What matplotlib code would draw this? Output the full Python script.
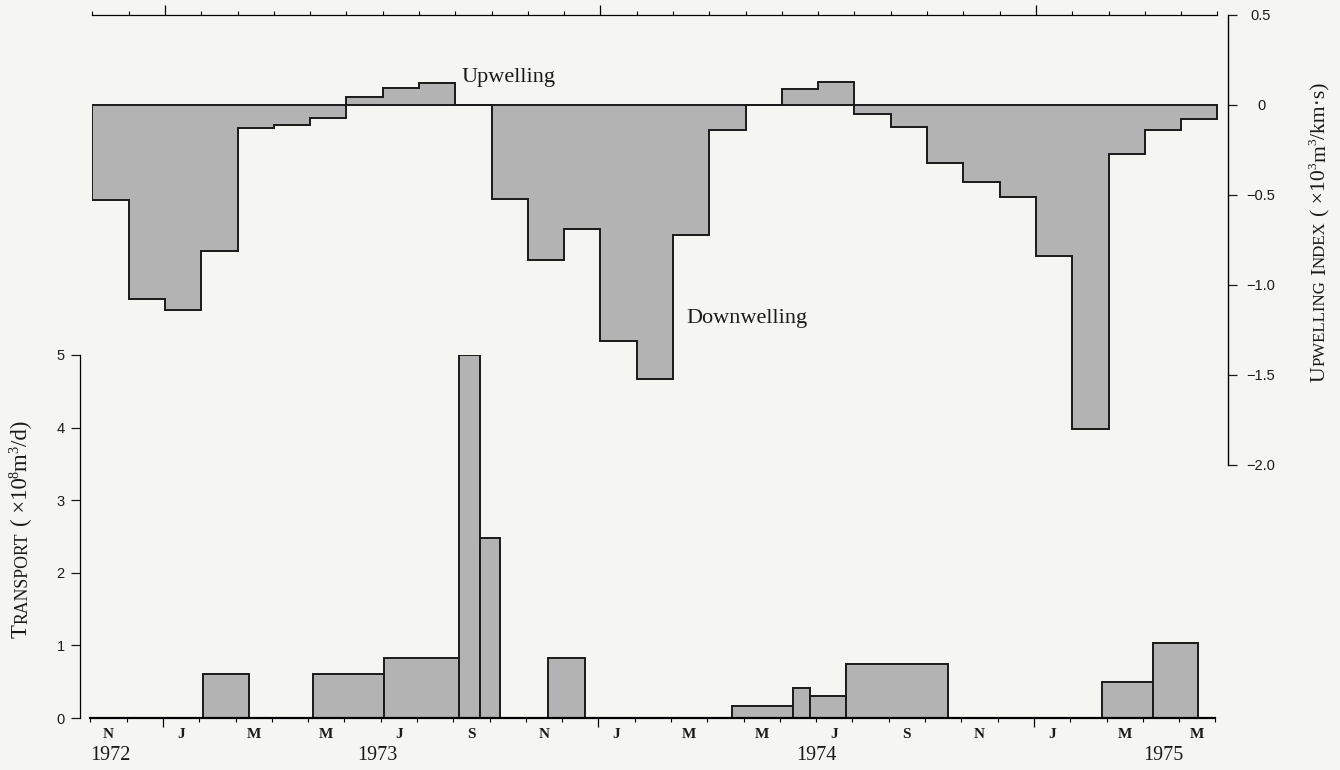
import matplotlib
matplotlib.use("Agg")
import matplotlib.pyplot as plt
import numpy as np
from matplotlib.transforms import IdentityTransform, blended_transform_factory

# ---------------- data ----------------
# x unit: months since 1 Nov 1972
month_edges = list(range(0, 32))
upwelling_index = [-0.53, -1.08, -1.14, -0.81, -0.13, -0.11, -0.07, 0.045, 0.095, 0.125, 0.0,
                   -0.52, -0.86, -0.69, -1.31, -1.52, -0.72, -0.14, 0.0, 0.09, 0.13,
                   -0.05, -0.12, -0.32, -0.43, -0.51, -0.84, -1.80, -0.27, -0.14, -0.08]

transport_start = [3.10, 6.14, 8.09, 10.17, 10.73, 12.61, 17.67, 19.35, 19.82, 20.82, 27.87, 29.28]
transport_end = [4.37, 8.09, 10.17, 10.73, 11.28, 13.63, 19.35, 19.82, 20.82, 23.63, 29.28, 30.52]
transport_value = [0.61, 0.60, 0.83, 5.0, 2.48, 0.83, 0.17, 0.41, 0.30, 0.74, 0.50, 1.03]

month_letters = ['N', 'J', 'M', 'M', 'J', 'S', 'N', 'J', 'M', 'M', 'J', 'S', 'N', 'J', 'M', 'M']
month_letter_pos = [0.5 + 2 * i for i in range(16)]
year_labels = ['1972', '1973', '1974', '1975']
year_label_pos = [0.54, 7.92, 20.0, 29.56]
jan_ticks = [2, 14, 26]

upw_ticks = [0.5, 0, -0.5, -1.0, -1.5, -2.0]
upw_ticklabels = ['0.5', '0', '\u22120.5', '\u22121.0', '\u22121.5', '\u22122.0']
tr_ticks = [0, 1, 2, 3, 4, 5]
tr_ticklabels = ['0', '1', '2', '3', '4', '5']

# ---------------- style ----------------
SERIF = 'Liberation Serif'
SANS = 'Liberation Sans'
INK = '#1a1a1a'
FILL = '#b3b3b3'
BG = '#f5f5f2'
plt.rcParams['font.family'] = SANS

W, H = 1340, 770
fig = plt.figure(figsize=(W / 100, H / 100), dpi=100, facecolor=BG)

MW = 36.29  # px per month


def fr(x0, y0_top, x1, y1_top):
    return [x0 / W, 1 - y1_top / H, (x1 - x0) / W, (y1_top - y0_top) / H]


# ---------------- top panel: upwelling index ----------------
ax1 = fig.add_axes(fr(92.4, 15, 1228, 465))
ax1.set_facecolor('none')
ax1.set_xlim(0, (1228 - 92.4) / MW)
ax1.set_ylim(-2.0, 0.5)
ax1.stairs(upwelling_index, month_edges, baseline=0, fill=True,
           facecolor=FILL, edgecolor=INK, linewidth=1.4, zorder=2)
ax1.plot([month_edges[0], month_edges[-1]], [0, 0], color=INK, lw=1.4, zorder=3)

for s in ['left', 'bottom']:
    ax1.spines[s].set_visible(False)
ax1.spines['top'].set_bounds(month_edges[0], month_edges[-1])
ax1.spines['top'].set_linewidth(0.9)
ax1.spines['right'].set_linewidth(1.0)
ax1.xaxis.set_ticks_position('top')
ax1.set_xticks(jan_ticks)
ax1.set_xticks(month_edges, minor=True)
ax1.tick_params(axis='x', which='major', direction='out', length=7, width=0.9, labeltop=False, labelbottom=False)
ax1.tick_params(axis='x', which='minor', direction='out', length=3, width=0.8)
ax1.yaxis.set_ticks_position('right')
ax1.set_yticks(upw_ticks)
ax1.set_yticklabels(upw_ticklabels)
ax1.tick_params(axis='y', direction='out', length=6.5, width=0.9, pad=17.3, labelsize=10.5,
                labelcolor=INK, color=INK)
for t in ax1.get_yticklabels():
    t.set_horizontalalignment('center')
    t.set_family(SANS)

ax1.text((462 - 92.4) / MW, (105 - 82) / 180, 'Upwelling', family=SERIF, fontsize=16,
         color=INK, ha='left', va='baseline')
ax1.text((686 - 92.4) / MW, (105 - 323) / 180, 'Downwelling', family=SERIF, fontsize=16,
         color=INK, ha='left', va='baseline')

# ---------------- bottom panel: transport ----------------
ax2 = fig.add_axes(fr(90.4, 355, 90.4 + 31 * MW, 718))
ax2.set_facecolor('none')
ax2.set_xlim(0, 31)
ax2.set_ylim(0, 5)
starts = np.array(transport_start)
ends = np.array(transport_end)
ax2.bar(starts, transport_value, width=ends - starts, align='edge', color=FILL,
        edgecolor=INK, linewidth=1.4, zorder=2)

for s in ['top', 'right']:
    ax2.spines[s].set_visible(False)
ax2.spines['left'].set_position(('outward', 7.5))
ax2.spines['left'].set_linewidth(0.9)
ax2.spines['bottom'].set_linewidth(1.6)
ax2.spines['bottom'].set_zorder(3)
ax2.set_yticks(tr_ticks)
ax2.set_yticklabels(tr_ticklabels)
ax2.tick_params(axis='y', direction='out', length=6.5, width=0.9, pad=4.5, labelsize=10.5,
                labelcolor=INK, color=INK)
ax2.set_xticks(jan_ticks)
ax2.set_xticks(month_edges, minor=True)
ax2.tick_params(axis='x', which='major', direction='out', length=6.5, width=0.9, labelbottom=False)
ax2.tick_params(axis='x', which='minor', direction='out', length=3, width=0.8)

trans = blended_transform_factory(ax2.transData, ax2.transAxes)
for m, lab in zip(month_letter_pos, month_letters):
    ax2.text(m, (718 - 734) / 363, lab, transform=trans, family=SERIF, weight='bold',
             fontsize=11, color=INK, ha='center', va='center')
for m, lab in zip(year_label_pos, year_labels):
    ax2.text(m, (718 - 756) / 363, lab, transform=trans, family=SERIF,
             fontsize=14.5, color=INK, ha='center', va='center')

# ---------------- rotated small-caps axis titles ----------------
renderer = fig.canvas.get_renderer()


def text_width(s, size):
    t1 = fig.text(0, 0, '|' + s + '|', fontsize=size, family=SERIF)
    t2 = fig.text(0, 0, '||', fontsize=size, family=SERIF)
    w = t1.get_window_extent(renderer).width - t2.get_window_extent(renderer).width
    t1.remove()
    t2.remove()
    return w


def vertical_rich(pieces, x_base, y_mid_top, target_len, base=14):
    ws = [text_width(s, base * rel) for s, rel, rise in pieces]
    size = base * target_len / sum(ws)
    ws = [text_width(s, size * rel) for s, rel, rise in pieces]
    y = (H - y_mid_top) - sum(ws) / 2
    for (s, rel, rise), w in zip(pieces, ws):
        if s.strip():
            fig.text(x_base - rise * size * 100 / 72, y, s.lstrip(), fontsize=size * rel,
                     family=SERIF, rotation=90, rotation_mode='anchor', ha='left',
                     va='baseline', transform=IdentityTransform(), color=INK)
        y += w


SC = 0.78
SUP = 0.62
RISE = 0.38
right_label = [('U', 1, 0), ('PWELLING', SC, 0), (' ', 1, 0), ('I', 1, 0), ('NDEX', SC, 0),
               (' ', 1, 0), ('( \u00d710', 1, 0), ('3', SUP, RISE), ('m', 1, 0), ('3', SUP, RISE),
               ('/km\u00b7s)', 1, 0)]
left_label = [('T', 1, 0), ('RANSPORT', SC, 0), (' ', 1, 0), ('( \u00d710', 1, 0), ('8', SUP, RISE),
              ('m', 1, 0), ('3', SUP, RISE), ('/d)', 1, 0)]
vertical_rich(right_label, 1325, 232, 301)
vertical_rich(left_label, 27, 529, 218)

fig.savefig('out.png', dpi=100, facecolor=BG)
